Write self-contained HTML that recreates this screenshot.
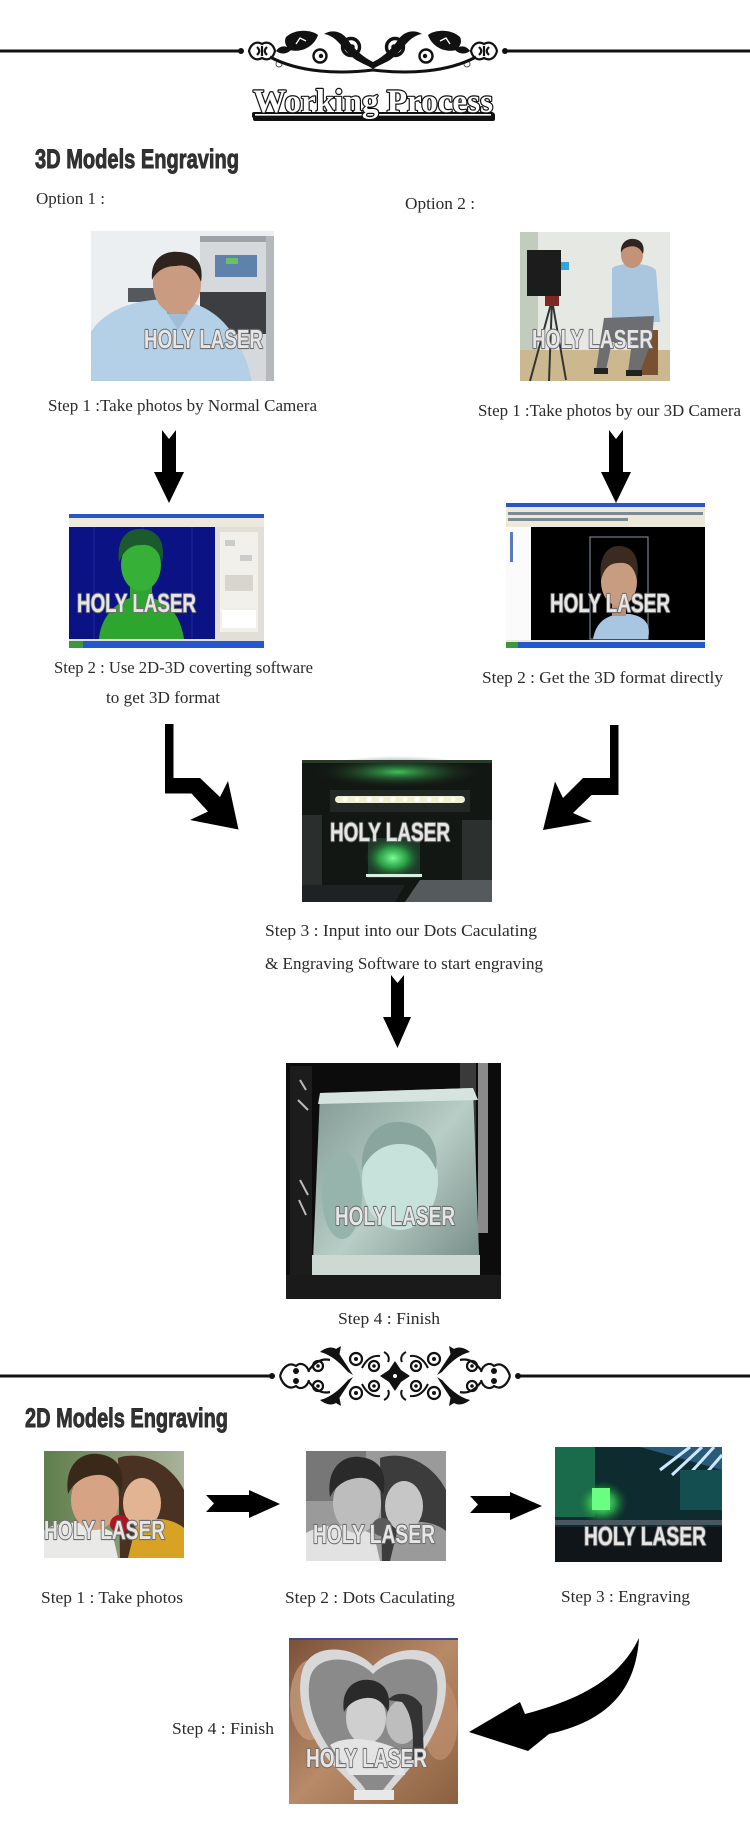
<!DOCTYPE html>
<html>
<head>
<meta charset="utf-8">
<style>
html,body{margin:0;padding:0;background:#fff;}
body{width:750px;height:1834px;overflow:hidden;}
svg{display:block;}
.lbl{font-family:"Liberation Serif",serif;font-size:17px;fill:#2a2a2a;}
.hd{font-family:"Liberation Sans",sans-serif;font-weight:bold;font-size:27px;fill:#333;stroke:#2a2a2a;stroke-width:0.9px;}
.wm{font-family:"Liberation Sans",sans-serif;font-weight:bold;font-size:26px;fill:#e6e6e6;stroke:#6e6e6e;stroke-width:2.2px;paint-order:stroke;stroke-linejoin:round;}
</style>
</head>
<body>
<svg width="750" height="1834" viewBox="0 0 750 1834" xmlns="http://www.w3.org/2000/svg">
<defs>
  <radialGradient id="gGlow" cx="0.5" cy="0.5" r="0.5">
    <stop offset="0" stop-color="#7dff96"/>
    <stop offset="0.5" stop-color="#2fb84e" stop-opacity="0.8"/>
    <stop offset="1" stop-color="#1a5a2a" stop-opacity="0"/>
  </radialGradient>
  <radialGradient id="gTopGlow" cx="0.5" cy="0.5" r="0.5">
    <stop offset="0" stop-color="#3fc25a"/>
    <stop offset="1" stop-color="#141814" stop-opacity="0"/>
  </radialGradient>
  <linearGradient id="gCube" x1="0" y1="0" x2="1" y2="1">
    <stop offset="0" stop-color="#7f9891"/>
    <stop offset="0.5" stop-color="#b7cdc6"/>
    <stop offset="1" stop-color="#6f847e"/>
  </linearGradient>
  <linearGradient id="gHeartBg" x1="0" y1="0" x2="1" y2="1">
    <stop offset="0" stop-color="#7a5038"/>
    <stop offset="0.5" stop-color="#b88a68"/>
    <stop offset="1" stop-color="#8a6040"/>
  </linearGradient>
  <linearGradient id="gCouple" x1="0" y1="0" x2="1" y2="0">
    <stop offset="0" stop-color="#5f7e4c"/>
    <stop offset="1" stop-color="#a9b39a"/>
  </linearGradient>

  <g id="ornTopL">
    <path d="M249,51 C251,43 257,41 262,44 C267,41 273,43 275,51 C273,59 267,61 262,58 C257,61 251,59 249,51 Z" fill="none" stroke="#111" stroke-width="2.2"/>
    <path d="M257,47 C260,50 260,52 257,55 M262,46 L262,56 M267,47 C264,50 264,52 267,55" fill="none" stroke="#111" stroke-width="2.2"/>
    <path d="M276,51 C280,45 287,45 291,50 C287,54 281,55 276,51 Z" fill="#111"/>
    <circle cx="279" cy="64" r="3" fill="none" stroke="#555" stroke-width="1"/>
    <path d="M286,37 C296,28 312,30 318,35 C314,47 301,53 290,50 C285,46 284,41 286,37 Z" fill="#111"/>
    <path d="M296,44 L300,38 L306,41" fill="none" stroke="#fff" stroke-width="1.3"/>
    <circle cx="320" cy="56" r="6.5" fill="none" stroke="#111" stroke-width="2.4"/>
    <circle cx="321" cy="56" r="2.2" fill="#111"/>
    <path d="M324,34 C338,36 344,52 356,60 C363,64 369,66 373,69 L373,62 C363,57 354,49 348,40 C342,31 332,29 324,34 Z" fill="#111"/>
    <circle cx="351" cy="47" r="8.5" fill="none" stroke="#111" stroke-width="3.4"/>
    <circle cx="352" cy="47" r="2.8" fill="#111"/>
    <path d="M270,57 C300,73 340,74 373,70" fill="none" stroke="#111" stroke-width="3"/>
  </g>

  <g id="ornBotQ">
    <path d="M280,1376 C283,1366 290,1362 296,1366 C300,1362 307,1364 309,1372" fill="none" stroke="#111" stroke-width="2.2"/>
    <circle cx="296" cy="1371" r="3" fill="#111"/>
    <path d="M309,1370 C315,1362 322,1358 330,1360" fill="none" stroke="#111" stroke-width="2.2"/>
    <circle cx="318" cy="1366" r="5" fill="none" stroke="#111" stroke-width="2.2"/>
    <circle cx="318" cy="1366" r="1.8" fill="#111"/>
    <path d="M320,1352 C332,1355 341,1364 348,1372 L353,1375 C346,1364 340,1355 336,1349 C331,1346 325,1348 320,1352 Z" fill="#111"/>
    <path d="M329,1353 L341,1346 L339,1357 Z" fill="#111"/>
    <circle cx="356" cy="1359" r="6" fill="none" stroke="#111" stroke-width="2.2"/>
    <circle cx="356" cy="1359" r="2" fill="#111"/>
    <circle cx="374" cy="1366" r="5" fill="none" stroke="#111" stroke-width="2.2"/>
    <circle cx="374" cy="1366" r="1.8" fill="#111"/>
    <path d="M362,1368 C366,1360 372,1355 380,1356" fill="none" stroke="#111" stroke-width="2"/>
    <path d="M384,1352 C388,1354 390,1358 388,1362" fill="none" stroke="#111" stroke-width="2"/>
  </g>
</defs>

<!-- TOP ORNAMENT RULE -->
<rect x="0" y="49.5" width="241" height="3" fill="#111"/>
<rect x="505" y="49.5" width="245" height="3" fill="#111"/>
<circle cx="241" cy="51" r="3" fill="#111"/>
<circle cx="505" cy="51" r="3" fill="#111"/>
<use href="#ornTopL"/>
<use href="#ornTopL" transform="translate(746,0) scale(-1,1)"/>

<!-- WORKING PROCESS TITLE -->
<rect x="253" y="113" width="242" height="8" rx="2" fill="#111"/>
<rect x="252" y="112" width="242" height="6" rx="2" fill="#111"/>
<rect x="255" y="114" width="236" height="1.6" fill="#fff"/>
<text x="253" y="112" textLength="240" lengthAdjust="spacingAndGlyphs" style="font-family:'Liberation Serif',serif;font-weight:bold;font-size:33px;fill:#fff;stroke:#111;stroke-width:2.4px;paint-order:stroke;stroke-linejoin:round;">Working Process</text>

<!-- 3D HEADING -->
<text class="hd" x="35" y="168" textLength="204" lengthAdjust="spacingAndGlyphs">3D Models Engraving</text>

<text class="lbl" x="36" y="204" textLength="69" lengthAdjust="spacingAndGlyphs">Option 1 :</text>
<text class="lbl" x="405" y="209" textLength="70" lengthAdjust="spacingAndGlyphs">Option 2 :</text>

<!-- IMG1 -->
<g>
  <rect x="91" y="231" width="183" height="150" fill="#eceff1"/>
  <rect x="200" y="236" width="74" height="145" fill="#d6d9db"/>
  <rect x="200" y="236" width="74" height="6" fill="#9da3a8"/>
  <rect x="266" y="236" width="8" height="145" fill="#b4b9bd"/>
  <rect x="215" y="255" width="42" height="22" fill="#5f82ad"/>
  <rect x="226" y="258" width="12" height="6" fill="#6cc262"/>
  <rect x="200" y="292" width="66" height="42" fill="#3c3e42"/>
  <rect x="128" y="288" width="30" height="14" fill="#55585c"/>
  <path d="M91,332 C108,304 150,297 178,300 C208,304 238,322 252,381 L91,381 Z" fill="#b4d0e6"/>
  <path d="M160,302 L178,330 L196,302 Z" fill="#9fbdd6"/>
  <rect x="167" y="300" width="20" height="14" fill="#c4947a"/>
  <ellipse cx="177" cy="284" rx="24" ry="30" fill="#c99c82"/>
  <path d="M152,280 C150,258 165,250 180,252 C196,253 204,264 201,282 C196,268 186,264 176,266 C166,266 157,270 152,280 Z" fill="#2e231d"/>
</g>

<!-- IMG2 -->
<g>
  <rect x="520" y="232" width="150" height="149" fill="#e6e8e4"/>
  <rect x="520" y="232" width="18" height="120" fill="#c2ccbc"/>
  <rect x="553" y="262" width="16" height="8" fill="#3aa2d4"/>
  <rect x="520" y="350" width="150" height="31" fill="#cbb88e"/>
  <line x1="552" y1="300" x2="530" y2="381" stroke="#333" stroke-width="2"/>
  <line x1="552" y1="300" x2="566" y2="380" stroke="#333" stroke-width="2"/>
  <line x1="552" y1="300" x2="549" y2="381" stroke="#333" stroke-width="2"/>
  <rect x="527" y="250" width="34" height="46" fill="#1c1c1c"/>
  <rect x="545" y="296" width="14" height="10" fill="#7a2a22"/>
  <rect x="638" y="330" width="20" height="45" fill="#7a5030"/>
  <path d="M612,268 C620,262 648,262 656,270 L660,322 L612,322 Z" fill="#a9c6de"/>
  <path d="M604,318 L654,316 L652,340 L640,372 L628,372 L632,342 L612,342 L606,370 L596,370 Z" fill="#6c6e72"/>
  <rect x="594" y="368" width="14" height="6" fill="#222"/>
  <rect x="626" y="370" width="16" height="6" fill="#222"/>
  <ellipse cx="632" cy="255" rx="11" ry="13" fill="#c39278"/>
  <path d="M621,253 C620,242 628,238 634,239 C642,240 645,246 643,254 C640,247 634,245 628,247 C624,248 622,250 621,253 Z" fill="#2e2520"/>
</g>

<text class="lbl" x="48" y="411" textLength="269" lengthAdjust="spacingAndGlyphs">Step 1 :Take photos by Normal Camera</text>
<text class="lbl" x="478" y="416" textLength="263" lengthAdjust="spacingAndGlyphs">Step 1 :Take photos by our 3D Camera</text>

<!-- DOWN ARROWS -->
<path d="M162,430 L169,439 L176,430 L176,472 L184,472 L169,503 L154,472 L162,472 Z" fill="#000"/>
<path d="M609,430 L616,439 L623,430 L623,472 L631,472 L616,503 L601,472 L609,472 Z" fill="#000"/>

<!-- IMG3 -->
<g>
  <rect x="69" y="514" width="195" height="134" fill="#e2dfd6"/>
  <rect x="69" y="514" width="195" height="4" fill="#2a55c4"/>
  <rect x="69" y="518" width="195" height="9" fill="#ece9df"/>
  <rect x="69" y="527" width="146" height="112" fill="#0b1283"/>
  <line x1="94" y1="527" x2="94" y2="639" stroke="#2a3aa8" stroke-width="0.6"/>
  <line x1="143" y1="527" x2="143" y2="639" stroke="#2a3aa8" stroke-width="0.6"/>
  <line x1="192" y1="527" x2="192" y2="639" stroke="#2a3aa8" stroke-width="0.6"/>
  <path d="M99,639 C101,615 118,602 130,598 L130,585 L152,585 L152,598 C166,602 180,612 184,639 Z" fill="#2ea52e"/>
  <ellipse cx="141" cy="565" rx="20" ry="26" fill="#36b036"/>
  <path d="M119,562 C116,538 128,528 142,529 C158,530 166,542 162,562 C158,548 150,544 141,545 C131,545 124,550 119,562 Z" fill="#1a5a2e"/>
  <rect x="220" y="532" width="38" height="100" fill="#f2f0ea"/>
  <rect x="225" y="540" width="10" height="6" fill="#ccc"/>
  <rect x="240" y="555" width="12" height="6" fill="#ccc"/>
  <rect x="225" y="575" width="28" height="16" fill="#d8d5cc"/>
  <rect x="222" y="610" width="34" height="18" fill="#fff"/>
  <rect x="69" y="641" width="195" height="7" fill="#2456cf"/>
  <rect x="69" y="641" width="14" height="7" fill="#3a9a3a"/>
</g>

<!-- IMG4 -->
<g>
  <rect x="506" y="503" width="199" height="145" fill="#ece9d8"/>
  <rect x="506" y="503" width="199" height="4" fill="#2a55c4"/>
  <rect x="508" y="512" width="195" height="3" fill="#7d8a95"/>
  <rect x="508" y="518" width="120" height="3" fill="#7d8a95"/>
  <rect x="506" y="527" width="25" height="113" fill="#fbfbfb"/>
  <rect x="510" y="532" width="3" height="30" fill="#5a7ab8"/>
  <rect x="531" y="527" width="174" height="113" fill="#000"/>
  <rect x="590" y="537" width="58" height="102" fill="none" stroke="#8a9aa8" stroke-width="1"/>
  <path d="M593,639 C596,622 606,616 619,614 L630,614 C642,616 652,622 648,639 Z" fill="#a8c6e2"/>
  <rect x="612" y="600" width="14" height="16" fill="#c08e70"/>
  <ellipse cx="619" cy="582" rx="18" ry="24" fill="#c89c80"/>
  <path d="M601,580 C598,556 608,545 620,546 C634,547 640,558 637,580 C634,566 628,562 619,563 C610,563 604,568 601,580 Z" fill="#3a2a20"/>
  <rect x="506" y="642" width="199" height="6" fill="#2456cf"/>
  <rect x="506" y="642" width="12" height="6" fill="#3a9a3a"/>
</g>

<text class="lbl" x="54" y="673" textLength="259" lengthAdjust="spacingAndGlyphs">Step 2 : Use 2D-3D coverting software</text>
<text class="lbl" x="106" y="703" textLength="114" lengthAdjust="spacingAndGlyphs">to get 3D format</text>
<text class="lbl" x="482" y="683" textLength="241" lengthAdjust="spacingAndGlyphs">Step 2 :  Get the 3D format directly</text>

<!-- BENT ARROWS -->
<path d="M165,724 L173.5,724 L173.5,778 L200,778 L220,797 L228,781 L238.5,829.5 L190,820 L208,811.5 L191.5,793.5 L165,793.5 Z" fill="#000"/>
<path d="M618.5,725 L610,725 L610,778 L583,778 L563,798 L555,781.5 L543,830 L592,821.5 L573,813 L591.5,795 L618.5,795 Z" fill="#000"/>

<!-- IMG5 -->
<g>
  <rect x="302" y="760" width="190" height="142" fill="#131713"/>
  <ellipse cx="398" cy="772" rx="85" ry="16" fill="url(#gTopGlow)"/>
  <rect x="302" y="760" width="190" height="3" fill="#2a3a2a"/>
  <rect x="330" y="790" width="140" height="22" fill="#222826"/>
  <rect x="335" y="796" width="130" height="7" rx="3.5" fill="#eef0cf"/>
  <g fill="#fff">
    <circle cx="345" cy="799.5" r="2.5"/><circle cx="357" cy="799.5" r="2.5"/><circle cx="369" cy="799.5" r="2.5"/><circle cx="381" cy="799.5" r="2.5"/><circle cx="393" cy="799.5" r="2.5"/><circle cx="405" cy="799.5" r="2.5"/><circle cx="417" cy="799.5" r="2.5"/><circle cx="429" cy="799.5" r="2.5"/><circle cx="441" cy="799.5" r="2.5"/><circle cx="453" cy="799.5" r="2.5"/>
  </g>
  <rect x="302" y="815" width="20" height="70" fill="#2a2e2c"/>
  <rect x="462" y="820" width="30" height="60" fill="#2c302e"/>
  <rect x="368" y="838" width="52" height="40" fill="#1f3a2a"/>
  <ellipse cx="393" cy="858" rx="28" ry="20" fill="url(#gGlow)"/>
  <rect x="366" y="874" width="56" height="3" fill="#d8f0e0"/>
  <path d="M405,902 L420,880 L492,880 L492,902 Z" fill="#555a5c"/>
  <path d="M302,885 L405,885 L395,902 L302,902 Z" fill="#1e2224"/>
</g>

<text class="lbl" x="265" y="936" textLength="272" lengthAdjust="spacingAndGlyphs">Step 3 :  Input into our Dots Caculating</text>
<text class="lbl" x="265" y="969" textLength="278" lengthAdjust="spacingAndGlyphs">&amp; Engraving Software  to start engraving</text>

<path d="M391,975 L397.5,983 L404,975 L404,1017 L411,1017 L397.5,1048 L383,1017 L391,1017 Z" fill="#000"/>

<!-- IMG6 -->
<g>
  <rect x="286" y="1063" width="215" height="236" fill="#0c0c0c"/>
  <rect x="290" y="1066" width="22" height="220" fill="#1c1c1c"/>
  <path d="M300,1080 L306,1090 M298,1100 L308,1110 M300,1180 L308,1195 M299,1200 L306,1215" stroke="#bbb" stroke-width="2"/>
  <rect x="460" y="1063" width="16" height="200" fill="#3a3a3a"/>
  <rect x="478" y="1063" width="10" height="170" fill="#8a8a8a"/>
  <path d="M320,1093 L473,1088 L480,1280 L312,1285 Z" fill="url(#gCube)"/>
  <path d="M320,1093 L473,1088 L478,1100 L318,1104 Z" fill="#d6e4df"/>
  <ellipse cx="342" cy="1195" rx="20" ry="44" fill="#96b4ab"/>
  <ellipse cx="400" cy="1180" rx="38" ry="50" fill="#c6e2da"/>
  <path d="M362,1170 C360,1135 380,1120 402,1122 C425,1124 440,1140 436,1170 C428,1150 415,1144 400,1144 C384,1144 370,1152 362,1170 Z" fill="#8aa59d"/>
  <rect x="312" y="1255" width="168" height="20" fill="#cfd9d4"/>
  <rect x="286" y="1275" width="215" height="24" fill="#1a1a1a"/>
</g>

<text class="lbl" x="338" y="1324" textLength="102" lengthAdjust="spacingAndGlyphs">Step 4 :  Finish</text>

<!-- SECOND ORNAMENT RULE -->
<rect x="0" y="1374.5" width="272" height="3" fill="#111"/>
<rect x="518" y="1374.5" width="232" height="3" fill="#111"/>
<circle cx="272" cy="1376" r="3" fill="#111"/>
<circle cx="518" cy="1376" r="3" fill="#111"/>
<use href="#ornBotQ"/>
<use href="#ornBotQ" transform="translate(0,2752) scale(1,-1)"/>
<use href="#ornBotQ" transform="translate(790,0) scale(-1,1)"/>
<use href="#ornBotQ" transform="translate(790,2752) scale(-1,-1)"/>
<path d="M395,1361 L401,1370 L410,1376 L401,1382 L395,1391 L389,1382 L380,1376 L389,1370 Z" fill="#111"/>
<circle cx="395" cy="1376" r="2" fill="#fff"/>

<!-- 2D HEADING -->
<text class="hd" x="25" y="1427" textLength="203" lengthAdjust="spacingAndGlyphs">2D Models Engraving</text>

<!-- IMG7 -->
<g>
  <rect x="44" y="1451" width="140" height="107" fill="url(#gCouple)"/>
  <path d="M118,1458 C140,1450 170,1462 184,1490 L184,1558 L120,1558 Z" fill="#4a3222"/>
  <path d="M136,1525 C150,1515 172,1518 184,1528 L184,1558 L128,1558 Z" fill="#d8a224"/>
  <ellipse cx="142" cy="1503" rx="19" ry="25" fill="#e2b494"/>
  <path d="M44,1530 C60,1520 90,1520 112,1532 L118,1558 L44,1558 Z" fill="#e9e9e7"/>
  <ellipse cx="95" cy="1500" rx="24" ry="30" fill="#d6a485"/>
  <path d="M68,1494 C64,1466 80,1452 98,1454 C118,1456 126,1470 121,1492 C114,1478 106,1474 96,1475 C84,1476 74,1482 68,1494 Z" fill="#3a2818"/>
  <ellipse cx="120" cy="1524" rx="10" ry="9" fill="#b01424"/>
</g>

<!-- IMG8 -->
<g>
  <rect x="306" y="1451" width="140" height="110" fill="#9a9a9a"/>
  <rect x="306" y="1451" width="60" height="50" fill="#777"/>
  <path d="M380,1458 C402,1450 432,1462 446,1490 L446,1561 L382,1561 Z" fill="#3c3c3c"/>
  <path d="M398,1528 C412,1518 434,1521 446,1531 L446,1561 L390,1561 Z" fill="#9a9a9a"/>
  <ellipse cx="404" cy="1506" rx="19" ry="25" fill="#c6c6c6"/>
  <path d="M306,1533 C322,1523 352,1523 374,1535 L380,1561 L306,1561 Z" fill="#e2e2e2"/>
  <ellipse cx="357" cy="1503" rx="24" ry="30" fill="#bdbdbd"/>
  <path d="M330,1497 C326,1469 342,1455 360,1457 C380,1459 388,1473 383,1495 C376,1481 368,1477 358,1478 C346,1479 336,1485 330,1497 Z" fill="#2a2a2a"/>
  <ellipse cx="382" cy="1527" rx="10" ry="9" fill="#5a5a5a"/>
</g>

<!-- IMG9 -->
<g>
  <rect x="555" y="1447" width="167" height="115" fill="#0e2c30"/>
  <rect x="555" y="1447" width="40" height="70" fill="#1a6a4c"/>
  <path d="M640,1447 L722,1447 L722,1470 Z" fill="#2a5a7a"/>
  <path d="M660,1470 L690,1447 M672,1475 L702,1447 M684,1480 L714,1447 M696,1485 L722,1455" stroke="#cfe6ff" stroke-width="3"/>
  <rect x="680" y="1470" width="42" height="40" fill="#144e50"/>
  <ellipse cx="602" cy="1503" rx="26" ry="22" fill="url(#gGlow)"/>
  <rect x="592" y="1488" width="18" height="22" fill="#6aff82"/>
  <rect x="555" y="1527" width="167" height="35" fill="#0f1518"/>
  <rect x="555" y="1520" width="167" height="5" fill="#4a5660"/>
</g>

<!-- RIGHT ARROWS -->
<path d="M206,1495 L249,1495 L249,1490 L280,1504 L249,1518 L249,1512 L206,1512 L214,1503.5 Z" fill="#000"/>
<path d="M470,1496 L510,1496 L510,1492 L542,1506 L510,1520 L510,1513 L470,1513 L478,1504.5 Z" fill="#000"/>

<text class="lbl" x="41" y="1603" textLength="142" lengthAdjust="spacingAndGlyphs">Step 1 :  Take photos</text>
<text class="lbl" x="285" y="1603" textLength="170" lengthAdjust="spacingAndGlyphs">Step 2 :  Dots Caculating</text>
<text class="lbl" x="561" y="1602" textLength="129" lengthAdjust="spacingAndGlyphs">Step 3 :  Engraving</text>

<!-- IMG10 -->
<g>
  <rect x="289" y="1638" width="169" height="166" fill="url(#gHeartBg)"/>
  <rect x="289" y="1638" width="169" height="2" fill="#3a4a8a"/>
  <ellipse cx="310" cy="1700" rx="20" ry="40" fill="#c8a080" opacity="0.7"/>
  <ellipse cx="440" cy="1720" rx="18" ry="40" fill="#c09070" opacity="0.7"/>
  <path d="M373,1666 C355,1646 310,1640 302,1672 C294,1705 312,1745 340,1772 C352,1784 360,1792 364,1800 L384,1800 C390,1790 400,1780 410,1768 C435,1740 452,1700 444,1670 C436,1642 392,1646 373,1666 Z" fill="#d8d8d8"/>
  <path d="M373,1674 C357,1656 316,1652 310,1678 C304,1706 320,1742 344,1766 C356,1778 364,1786 368,1794 L380,1794 C386,1786 394,1776 404,1764 C428,1738 442,1704 436,1676 C430,1652 390,1656 373,1674 Z" fill="#8a8a8a"/>
  <ellipse cx="366" cy="1718" rx="20" ry="26" fill="#cfcfcf"/>
  <path d="M344,1712 C340,1688 356,1678 370,1680 C386,1682 392,1696 388,1712 C382,1700 374,1697 366,1698 C356,1699 348,1704 344,1712 Z" fill="#2a2a2a"/>
  <ellipse cx="402" cy="1722" rx="16" ry="22" fill="#bdbdbd"/>
  <path d="M388,1700 C396,1690 414,1692 422,1706 L424,1760 L412,1760 C414,1740 414,1716 402,1702 Z" fill="#333"/>
  <path d="M330,1745 C345,1735 375,1738 400,1750 L405,1775 L350,1775 Z" fill="#e4e4e4"/>
  <rect x="354" y="1790" width="40" height="10" fill="#e8e8e8"/>
</g>

<text class="lbl" x="172" y="1734" textLength="102" lengthAdjust="spacingAndGlyphs">Step 4 :  Finish</text>

<!-- CURVED ARROW -->
<path d="M639,1638 C636,1686 612,1720 549,1734 L528,1751 L469,1732 L520,1702 L525,1714 C582,1699 620,1678 639,1638 Z" fill="#000"/>

<!-- WATERMARKS -->
<text class="wm" x="144" y="348" textLength="119" lengthAdjust="spacingAndGlyphs">HOLY LASER</text>
<text class="wm" x="532" y="348" textLength="121" lengthAdjust="spacingAndGlyphs">HOLY LASER</text>
<text class="wm" x="77" y="612" textLength="119" lengthAdjust="spacingAndGlyphs">HOLY LASER</text>
<text class="wm" x="550" y="612" textLength="120" lengthAdjust="spacingAndGlyphs">HOLY LASER</text>
<text class="wm" x="330" y="841" textLength="120" lengthAdjust="spacingAndGlyphs">HOLY LASER</text>
<text class="wm" x="335" y="1225" textLength="120" lengthAdjust="spacingAndGlyphs">HOLY LASER</text>
<text class="wm" x="44" y="1539" textLength="121" lengthAdjust="spacingAndGlyphs">HOLY LASER</text>
<text class="wm" x="313" y="1543" textLength="122" lengthAdjust="spacingAndGlyphs">HOLY LASER</text>
<text class="wm" x="584" y="1545" textLength="122" lengthAdjust="spacingAndGlyphs">HOLY LASER</text>
<text class="wm" x="306" y="1767" textLength="121" lengthAdjust="spacingAndGlyphs">HOLY LASER</text>
</svg>
</body>
</html>
